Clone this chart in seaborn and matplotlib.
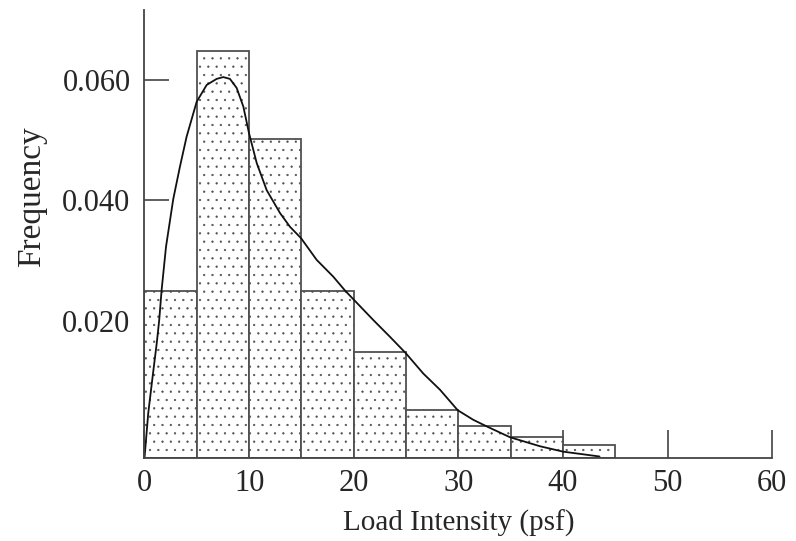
import numpy as np
import pandas as pd
import matplotlib
matplotlib.use("Agg")
import matplotlib.pyplot as plt
import seaborn as sns

# histogram bins (psf) and bar heights
bin_edges = [0, 5, 10, 15, 20, 25, 30, 35, 40, 45]
bar_heights = [0.0279, 0.0677, 0.0531, 0.0279, 0.0176, 0.0080, 0.0054, 0.0035, 0.0022]

# fitted density curve
curve_x = [0.0, 0.36, 0.78, 1.17, 1.41, 1.64, 2.06, 2.75, 3.39, 4.03, 4.99, 5.95,
           6.90, 7.53, 8.17, 8.81, 9.45, 9.99, 10.73, 11.68, 12.95, 13.91, 14.97,
           16.46, 18.05, 19.17, 21.87, 23.47, 24.97, 26.65, 28.25, 29.94, 31.43,
           32.72, 34.94, 37.81, 40.03, 43.5]
curve_y = [0.0, 0.0075, 0.0136, 0.0191, 0.0230, 0.0280, 0.0352, 0.0431, 0.0485,
           0.0535, 0.0593, 0.0621, 0.0631, 0.0634, 0.0631, 0.0616, 0.0585, 0.0541,
           0.0491, 0.0446, 0.0408, 0.0385, 0.0366, 0.0330, 0.0302, 0.0279, 0.0230,
           0.0202, 0.0175, 0.0141, 0.0114, 0.0080, 0.0064, 0.0053, 0.0035, 0.0020,
           0.0011, 0.0003]

# y tick labels as printed (the printed ticks sit a little above the bar baseline)
ytick_values = [0.0, 0.020, 0.040, 0.060]
ytick_labels = ["", "0.020", "0.040", "0.060"]
ytick_offset = 0.0029
xtick_values = [0, 10, 20, 30, 40, 50, 60]

sns.set_style("ticks")
plt.rcParams["font.family"] = ["Liberation Serif", "DejaVu Serif"]
plt.rcParams["hatch.linewidth"] = 0.4

centers = [(a + b) / 2 for a, b in zip(bin_edges[:-1], bin_edges[1:])]
df = pd.DataFrame({"load": centers, "freq": bar_heights})
curve = pd.DataFrame({"load": curve_x, "freq": curve_y})

fig = plt.figure(figsize=(7.96, 5.41), dpi=100)
ax = fig.add_axes([0.1815, 0.1529, 0.7885, 0.8291])

sns.histplot(data=df, x="load", weights="freq", bins=bin_edges, stat="count",
             color="white", edgecolor="#505050", linewidth=1.3, alpha=1, ax=ax)
for p in ax.patches:
    p.set_hatch("..")
    p.set_facecolor("white")
    try:
        p.set_hatchcolor("#a0a0a0")
    except AttributeError:
        pass

sns.lineplot(data=curve, x="load", y="freq", color="#111111", linewidth=1.3, ax=ax)

ax.set_xlim(0, 60)
ax.set_ylim(0, 0.0746)
ax.set_xticks(xtick_values)
ax.set_yticks([v + ytick_offset for v in ytick_values])
ax.set_yticklabels(ytick_labels)
ax.tick_params(axis="x", direction="in", length=20, width=1.1, pad=8,
               labelsize=22, color="#333333")
ax.tick_params(axis="y", direction="in", length=18, width=1.1, pad=10,
               labelsize=22, color="#333333")

ax.set_xlabel("Load Intensity (psf)", fontsize=21, labelpad=8)
ax.set_ylabel("Frequency", fontsize=24)
ax.yaxis.set_label_coords(-0.155, 0.5825)

sns.despine(ax=ax)
for s in ["left", "bottom"]:
    ax.spines[s].set_linewidth(1.3)
    ax.spines[s].set_color("#444444")

fig.savefig("out.png", dpi=100)
